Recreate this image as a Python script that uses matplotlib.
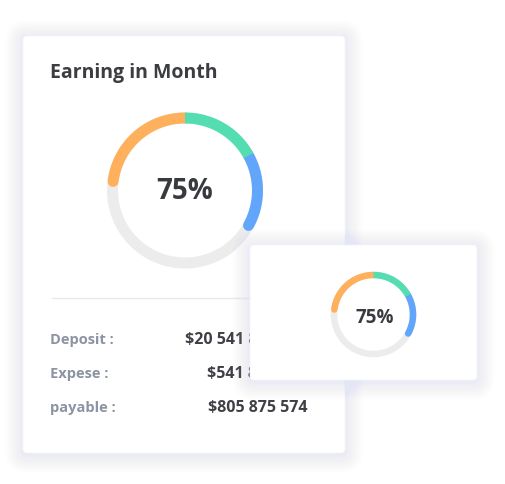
import numpy as np
import matplotlib.pyplot as plt
from matplotlib.patches import FancyBboxPatch

# ---- data ----
title = 'Earning in Month'
center_label = '75%'
segment_values = [23, 17, 16]          # percent of full circle
segment_colors = ['#ffb05c', '#55ddb2', '#62a6fb']
row_labels = ['Deposit :', 'Expese :', 'payable :']
row_values = ['$20 541 875 574', '$541 875 574', '$805 875 574']

DPI = 100
W, H = 505, 485
FONT = ['Open Sans', 'DejaVu Sans']


def px2pt(px):
    return px * 72.0 / DPI


def card(ax, x0, y0, x1, y1, z):
    # soft bluish shadow, expanding faint layers
    for i in range(20):
        pad = 0.5 + i * 0.9
        ax.add_patch(FancyBboxPatch((x0 - pad, y0 - pad + 2), x1 - x0 + 2 * pad, y1 - y0 + 2 * pad,
                                    boxstyle='round,pad=0,rounding_size=%f' % (4 + pad),
                                    fc='#e2e6f5', ec='none', alpha=0.012, zorder=z))
    ax.add_patch(FancyBboxPatch((x0, y0), x1 - x0, y1 - y0,
                                boxstyle='round,pad=0,rounding_size=4',
                                fc='white', ec='#f3f4f8', lw=0.5, zorder=z + 0.1))


def donut(ax, cx, cy, r, width, values, colors, z):
    t = np.linspace(0, 2 * np.pi, 400)
    lw = px2pt(width)
    ax.plot(cx + r * np.cos(t), cy - r * np.sin(t), color='#ececec', lw=lw, zorder=z)
    # orange/green boundary sits at the top
    start = 90 + values[0] * 3.6
    edges = start - np.cumsum([0] + list(values)) * 3.6
    segs = []
    for i, (v, c) in enumerate(zip(values, colors)):
        a = np.radians(np.linspace(edges[i], edges[i + 1], 120))
        segs.append((a, c))
    # first and last get round ends, middle drawn on top with flat ends
    order = [0, len(segs) - 1] + list(range(1, len(segs) - 1))
    for k, i in enumerate(order):
        a, c = segs[i]
        cap = 'round' if i in (0, len(segs) - 1) else 'butt'
        ax.plot(cx + r * np.cos(a), cy - r * np.sin(a), color=c, lw=lw,
                solid_capstyle=cap, zorder=z + 0.1 + 0.01 * k)


fig = plt.figure(figsize=(W / DPI, H / DPI), dpi=DPI)
ax = fig.add_axes([0, 0, 1, 1])
ax.set_xlim(0, W)
ax.set_ylim(H, 0)
ax.set_aspect('equal')
ax.axis('off')

# big card
card(ax, 23, 37, 345, 454, 1)
ax.text(50, 73, title, fontsize=14, color='#3c3d42', ha='left', va='center',
        family=FONT, fontweight='bold', zorder=3)
donut(ax, 185, 191.5, 72.5, 11, segment_values, segment_colors, 3)
ax.text(185, 192, center_label, fontsize=20, color='#393a3f', ha='center', va='center',
        family=FONT, fontweight='bold', zorder=4)
ax.plot([52, 330], [299, 299], color='#e8e8ec', lw=1, zorder=3)
for i, (lab, val) in enumerate(zip(row_labels, row_values)):
    y = 340 + i * 34
    ax.text(50, y, lab, fontsize=10.5, color='#8c93a3', ha='left', va='center',
            family=FONT, fontweight='bold', zorder=3)
    ax.text(307, y, val, fontsize=11.5, color='#3f4045', ha='right', va='center',
            family=FONT, fontweight='bold', zorder=3)

# small card
card(ax, 250, 246, 477, 381, 5)
donut(ax, 373.5, 315.5, 39.5, 6.5, segment_values, segment_colors, 7)
ax.text(375, 318, center_label, fontsize=13.5, color='#393a3f', ha='center', va='center',
        family=FONT, fontweight='bold', zorder=8)

fig.savefig('out.png', dpi=DPI, facecolor='white')
